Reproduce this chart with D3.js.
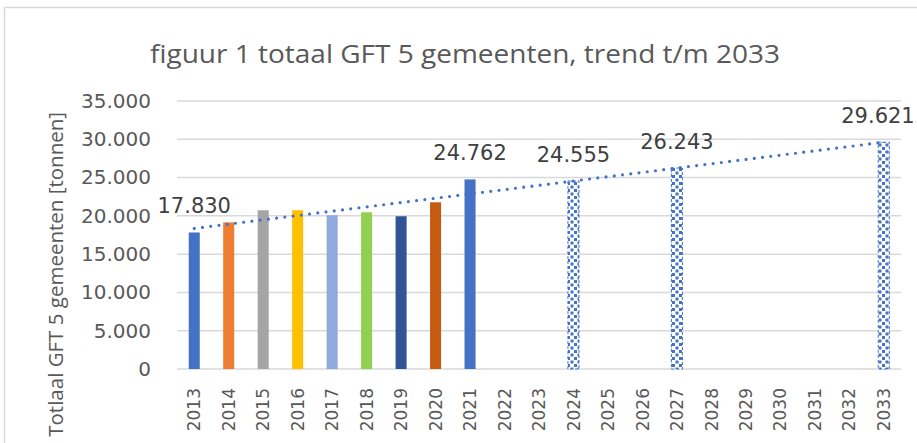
<!DOCTYPE html>
<html>
<head>
<meta charset="utf-8">
<script src="https://cdn.jsdelivr.net/npm/d3@7"></script>
<style>
  body { margin: 0; background: #fff; }
  svg { display: block; }
</style>
</head>
<body>
<div id="chart"></div>
<script>
// figuur 1: totaal GFT 5 gemeenten, trend t/m 2033

var years = ["2013", "2014", "2015", "2016", "2017", "2018", "2019", "2020", "2021",
             "2022", "2023", "2024", "2025", "2026", "2027", "2028", "2029", "2030",
             "2031", "2032", "2033"];

// measured tonnage per year
var actualYears = ["2013", "2014", "2015", "2016", "2017", "2018", "2019", "2020", "2021"];
var actualValues = [17830, 19150, 20730, 20740, 20080, 20470, 19950, 21770, 24762];
var actualColors = ["#4472c4", "#ed7d31", "#a5a5a5", "#ffc000", "#8faadc",
                    "#92d050", "#2f5597", "#c55a11", "#4472c4"];

// projected bars (trend values)
var projYears = ["2024", "2027", "2033"];
var projValues = [24555, 26243, 29621];

// linear trend line end points
var trendYears = ["2013", "2033"];
var trendValues = [18360, 29621];

// labels that are shown on the bars
var labelYears = ["2013", "2021", "2024", "2027", "2033"];
var labelValues = [17830, 24762, 24555, 26243, 29621];

var yTicks = [0, 5000, 10000, 15000, 20000, 25000, 30000, 35000];

var W = 917, H = 443;
var plot = { left: 177, right: 901, top: 101, bottom: 369 };

var nl = d3.formatLocale({ decimal: ",", thousands: ".", grouping: [3], currency: ["", ""] });
var fmt = nl.format(",d");

var svg = d3.select("#chart").append("svg")
    .attr("width", W)
    .attr("height", H);

// pattern for the projected bars
var defs = svg.append("defs");
var pat = defs.append("pattern")
    .attr("id", "checker")
    .attr("patternUnits", "userSpaceOnUse")
    .attr("width", 7)
    .attr("height", 7);
pat.append("rect").attr("width", 7).attr("height", 7).attr("fill", "#fff");
pat.append("rect").attr("x", 0).attr("y", 0).attr("width", 3).attr("height", 3).attr("fill", "#4472c4");
pat.append("rect").attr("x", 3.5).attr("y", 3.5).attr("width", 3).attr("height", 3).attr("fill", "#4472c4");

// chart frame
svg.append("rect")
    .attr("x", 4.5).attr("y", 7.5)
    .attr("width", 1000).attr("height", 1000)
    .attr("fill", "none")
    .attr("stroke", "#d9d9d9")
    .attr("stroke-width", 1.5);

// title
svg.append("text")
    .attr("x", 465)
    .attr("y", 63)
    .attr("text-anchor", "middle")
    .attr("font-family", "'Liberation Sans Narrow', 'Open Sans', sans-serif")
    .attr("font-size", "26px")
    .attr("fill", "#595959")
    .attr("textLength", 630)
    .attr("lengthAdjust", "spacingAndGlyphs")
    .text("figuur 1 totaal GFT 5 gemeenten, trend t/m 2033");

// scales
var xScale = d3.scaleBand()
    .domain(years)
    .range([plot.left, plot.right])
    .paddingInner(0.68)
    .paddingOuter(0.34);

var yScale = d3.scaleLinear()
    .domain([0, 35000])
    .range([plot.bottom, plot.top]);

var cx = function (y) { return xScale(y) + xScale.bandwidth() / 2; };

// gridlines
svg.append("g")
    .selectAll("line")
    .data(yTicks)
    .enter().append("line")
    .attr("x1", plot.left)
    .attr("x2", plot.right)
    .attr("y1", function (d) { return yScale(d); })
    .attr("y2", function (d) { return yScale(d); })
    .attr("stroke", "#d9d9d9")
    .attr("stroke-width", 1.5);

// y axis labels
var yAxis = d3.axisLeft(yScale).tickValues(yTicks).tickFormat(fmt).tickSize(0).tickPadding(0);
var gy = svg.append("g")
    .attr("transform", "translate(151,0)")
    .call(yAxis);
gy.select(".domain").remove();
gy.selectAll("text")
    .attr("font-family", "'DejaVu Sans', sans-serif")
    .attr("font-size", "20px")
    .attr("fill", "#595959");

// x axis labels (rotated)
var xAxis = d3.axisBottom(xScale).tickSize(0).tickPadding(0);
var gx = svg.append("g")
    .attr("transform", "translate(0," + plot.bottom + ")")
    .call(xAxis);
gx.select(".domain").remove();
gx.selectAll("text")
    .attr("font-family", "'DejaVu Sans', sans-serif")
    .attr("font-size", "17px")
    .attr("fill", "#595959")
    .attr("text-anchor", "end")
    .attr("transform", "translate(0,19) rotate(-90)")
    .attr("x", 0)
    .attr("y", 0)
    .attr("dy", "0.36em");

// y axis title
svg.append("text")
    .attr("transform", "translate(63,112) rotate(-90)")
    .attr("text-anchor", "end")
    .attr("font-family", "'Open Sans', sans-serif")
    .attr("font-size", "20.5px")
    .attr("fill", "#595959")
    .text("Totlaal GFT 5 gemeenten [tonnen]");

// actual bars
svg.append("g")
    .selectAll("rect")
    .data(actualYears)
    .enter().append("rect")
    .attr("x", function (d) { return xScale(d); })
    .attr("y", function (d, i) { return yScale(actualValues[i]); })
    .attr("width", xScale.bandwidth())
    .attr("height", function (d, i) { return plot.bottom - yScale(actualValues[i]); })
    .attr("fill", function (d, i) { return actualColors[i]; });

// projected bars
var pg = svg.append("g");
pg.selectAll("rect.proj")
    .data(projYears)
    .enter().append("rect")
    .attr("class", "proj")
    .attr("x", function (d) { return xScale(d); })
    .attr("y", function (d, i) { return yScale(projValues[i]); })
    .attr("width", xScale.bandwidth())
    .attr("height", function (d, i) { return plot.bottom - yScale(projValues[i]); })
    .attr("fill", "url(#checker)")
    .attr("stroke", "#4472c4")
    .attr("stroke-width", 1)
    .attr("stroke-dasharray", "3,2");

// trend line
var line = d3.line()
    .x(function (d) { return cx(d[0]); })
    .y(function (d) { return yScale(d[1]); });
svg.append("path")
    .datum(trendYears.map(function (y, i) { return [y, trendValues[i]]; }))
    .attr("d", line)
    .attr("fill", "none")
    .attr("stroke", "#4472c4")
    .attr("stroke-width", 3.2)
    .attr("stroke-linecap", "round")
    .attr("stroke-dasharray", "0,8.3");

// data labels (last one kept inside the right edge)
svg.append("g")
    .selectAll("text")
    .data(labelYears)
    .enter().append("text")
    .attr("x", function (d) { return Math.min(cx(d), W - 2 - 37); })
    .attr("y", function (d, i) { return yScale(labelValues[i]) - 19; })
    .attr("text-anchor", "middle")
    .attr("font-family", "'DejaVu Sans', sans-serif")
    .attr("font-size", "21px")
    .attr("fill", "#404040")
    .text(function (d, i) { return fmt(labelValues[i]); });
</script>
</body>
</html>
